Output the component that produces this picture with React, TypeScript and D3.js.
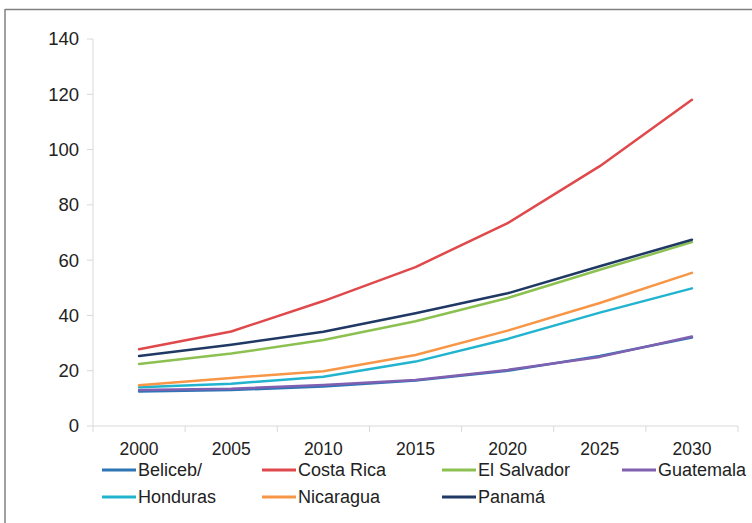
import React from "react";
import * as d3 from "d3";

const years = ["2000", "2005", "2010", "2015", "2020", "2025", "2030"];
const yTicks = [0, 20, 40, 60, 80, 100, 120, 140];

const belice = [12.5, 13, 14.3, 16.5, 20, 25.3, 32];
const costaRica = [27.8, 34.2, 45.2, 57.5, 73.4, 94, 118];
const elSalvador = [22.4, 26.2, 31.1, 37.9, 46.3, 56.5, 66.5];
const guatemala = [13, 13.5, 14.8, 16.6, 20.3, 25, 32.4];
const honduras = [14, 15.3, 17.8, 23.3, 31.5, 41, 49.8];
const nicaragua = [14.7, 17.4, 19.8, 25.7, 34.5, 44.5, 55.4];
const panama = [25.3, 29.4, 34.1, 40.8, 48, 57.8, 67.4];

const seriesNames = ["Beliceb/", "Costa Rica", "El Salvador", "Guatemala", "Honduras", "Nicaragua", "Panamá"];
const seriesValues = [belice, costaRica, elSalvador, guatemala, honduras, nicaragua, panama];
const seriesColors = ["#2e75b6", "#e0494b", "#8cc152", "#8060b0", "#22b4cf", "#f79646", "#1f3864"];

export default function App() {
  const W = 752, H = 523;
  const left = 93, right = 738, top = 39, bottom = 426;
  const x = d3.scaleBand<string>().domain(years).range([left, right]);
  const y = d3.scaleLinear().domain([0, 140]).range([bottom, top]);
  const line = d3
    .line<number>()
    .x((_, i) => (x(years[i]) as number) + x.bandwidth() / 2)
    .y((d) => y(d))
    .curve(d3.curveLinear);
  const boundaries = years.map((yr) => x(yr) as number).concat([right]);
  const font = "'Liberation Sans', Arial, sans-serif";
  const legendCols = [102, 262, 442, 622];
  const legendRows = [470, 497];

  return (
    <svg width={W} height={H} style={{ position: "absolute", left: 0, top: 0 }}>
      <rect x={0} y={0} width={W} height={H} fill="#fff" />
      <line x1={5} y1={9.5} x2={W} y2={9.5} stroke="#808080" strokeWidth={1.5} />
      <line x1={5} y1={9} x2={5} y2={H} stroke="#808080" strokeWidth={1.5} />
      {/* y axis */}
      <line x1={left} y1={top} x2={left} y2={bottom} stroke="#d9d9d9" strokeWidth={1} />
      {yTicks.map((t) => (
        <g key={t}>
          <line x1={left - 6} x2={left} y1={y(t)} y2={y(t)} stroke="#d9d9d9" />
          <text x={79} y={y(t)} dy="0.35em" textAnchor="end" fontFamily={font} fontSize={18.5} fill="#222">
            {t}
          </text>
        </g>
      ))}
      {/* x axis */}
      <line x1={left} y1={bottom} x2={right} y2={bottom} stroke="#d9d9d9" strokeWidth={1} />
      {boundaries.map((b, i) => (
        <line key={i} x1={b} x2={b} y1={bottom} y2={bottom + 6} stroke="#d9d9d9" />
      ))}
      {years.map((yr) => (
        <text
          key={yr}
          x={(x(yr) as number) + x.bandwidth() / 2}
          y={449}
          dy="0.35em"
          textAnchor="middle"
          fontFamily={font}
          fontSize={17.5}
          fill="#222"
        >
          {yr}
        </text>
      ))}
      {seriesValues.map((vals, i) => (
        <path key={i} d={line(vals) as string} fill="none" stroke={seriesColors[i]} strokeWidth={2.5} strokeLinejoin="round" strokeLinecap="round" />
      ))}
      {seriesNames.map((name, i) => {
        const cx = legendCols[i % 4];
        const cy = legendRows[Math.floor(i / 4)];
        return (
          <g key={name}>
            <line x1={cx} x2={cx + 34} y1={cy} y2={cy} stroke={seriesColors[i]} strokeWidth={3} />
            <text x={cx + 36} y={cy} dy="0.35em" fontFamily={font} fontSize={18} fill="#222">
              {name}
            </text>
          </g>
        );
      })}
    </svg>
  );
}
